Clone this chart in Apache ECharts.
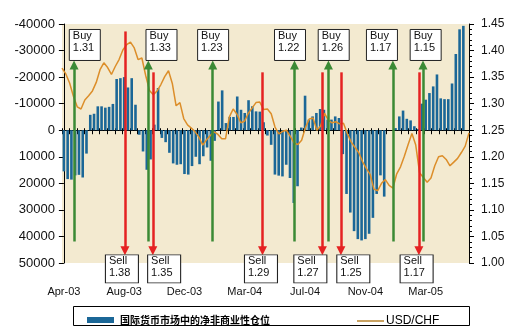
<!DOCTYPE html>
<html><head><meta charset="utf-8">
<script src="https://cdn.jsdelivr.net/npm/echarts@6/dist/echarts.min.js"></script>
<style>html,body{margin:0;padding:0;background:#fff}#c{width:522px;height:335px}</style>
</head><body><div id="c"></div>
<script>
// ---- data ----
const tickLabels = ['Apr-03','Aug-03','Dec-03','Mar-04','Jul-04','Nov-04','Mar-05'];
const weeksPerLabel = 16;
// net non-commercial positions (IMM), weekly; positive plotted downward (inverse axis)
const positions = [
  15500, 18400, 18600, 17000, 16800, 17800, 8800,
  -5800, -6200, -9000, -9000, -8500, -8800, -9900, -19300, -19600, -20000, -16100, -19600, -9600,
  1700, 8000, 14900, 11000,
  -2100, -15900,
  2900, 4500, 8500, 12500, 13000, 12800, 16500, 16700, 13500, 10000, 12800, 9800, 6500, 11500,
  4000,
  -10800, -15000, -2700, -5000, -5000, -12700, -7700, -6500, -11300, -9000, -7100, -7000, -3000,
  2000,
  5500, 16700, 17100, 17400, 13000, 18000, 27400, 21100,
  -1000, -13000, -4000, -5200, -6500, -8000, -7700, -4000, -4000, -5200, -4600,
  9000, 24000, 31000, 38000, 41000, 41500, 41000, 39000, 33000, 24000, 17000, 25000, 0,
  0,
  -800, -5200, -7400, -4300, -3700, -1500,
  -500, -10000,
  -11500, -14000, -16500, -21000, -12000, -11700, -11700, -17600, -28700, -38000, -39300,
  null
];
const usdchf = [
  1.367, 1.356, 1.339, 1.314, 1.294, 1.290, 1.307, 1.315, 1.324, 1.340,
  1.364, 1.377, 1.368, 1.355, 1.370, 1.383, 1.401, 1.411, 1.416, 1.405,
  1.383, 1.386, 1.353, 1.325, 1.317, 1.324, 1.336, 1.351, 1.362, 1.338,
  1.296, 1.302, 1.272, 1.260, 1.254, 1.247, 1.237, 1.222, 1.232, 1.240,
  1.247, 1.242, 1.234, 1.234, 1.275, 1.290, 1.280, 1.264, 1.267, 1.282,
  1.292, 1.302, 1.303, 1.289, 1.290, 1.281, 1.256, 1.243, 1.248, 1.250,
  1.239, 1.226, 1.223, 1.231, 1.255, 1.271, 1.273, 1.250, 1.258, 1.282,
  1.269, 1.264, 1.266, 1.262, 1.263, 1.244, 1.228, 1.218, 1.208, 1.191,
  1.178, 1.167, 1.139, 1.136, 1.150, 1.157, 1.146, 1.141, 1.168, 1.181,
  1.201, 1.223, 1.244, 1.222, 1.170, 1.161, 1.152, 1.160, 1.183, 1.200,
  1.202, 1.195, 1.183, 1.190, 1.197, 1.208, 1.220, 1.245
];
// signals (positions in week-index units)
const buyAt     = [2.7, 22.4, 39.5, 61.2, 70.2, 87.3, 95.3];
const buyPrice  = ['1.31','1.33','1.23','1.22','1.26','1.17','1.15'];
const buyBoxAt  = [5.55, 25.9, 39.6, 60.0, 71.6, 84.4, 96.0];
const sellAt    = [16.2, 23.6, 52.7, 68.6, 73.5, 94.2];
const sellPrice = ['1.38','1.35','1.29','1.27','1.25','1.17'];
const sellBoxAt = [15.4, 26.6, 52.3, 65.4, 76.8, 93.6];
const sellTop   = [-37200, -21800, -21800, -21800, -21800, -21800];

// ---- chart ----
const N = positions.length;
const categories = positions.map((_, i) => (i % weeksPerLabel === 0 ? tickLabels[i / weeksPerLabel] : ''));
const GREEN = '#3b8a35', RED = '#e52222';
const FONT = 'Liberation Sans, Arial, sans-serif';

const buyBoxes = buyBoxAt.map((x, i) => ({ value: [x, -32100], text: 'Buy\n' + buyPrice[i] }));
const sellBoxes = sellBoxAt.map((x, i) => ({ value: [x, 52200], text: 'Sell\n' + sellPrice[i] }));
const buyArrows = buyAt.map(x => [{ coord: [x, 41900] }, { coord: [x, -24600] }]);
const sellArrows = sellAt.map((x, i) => [{ coord: [x, sellTop[i]] }, { coord: [x, 45400] }]);

const boxLabel = {
  show: true, position: [4, 1], formatter: p => p.data.text,
  fontSize: 11, lineHeight: 12, color: '#111', fontFamily: FONT
};
const arrowLine = color => ({
  silent: true, symbol: ['none', 'triangle'], symbolSize: 9, label: { show: false },
  lineStyle: { color: color, width: 2.5, type: 'solid' }, itemStyle: { color: color },
  emphasis: { disabled: true }
});

const option = {
  animation: false,
  backgroundColor: '#fff',
  grid: { left: 62, right: 53, top: 24, bottom: 72, show: true, backgroundColor: '#f3ead0', borderWidth: 0 },
  graphic: [{
    type: 'rect', silent: true, z: 0,
    shape: { x: 73.5, y: 306.5, width: 396, height: 19 },
    style: { fill: '#fff', stroke: '#000', lineWidth: 1 }
  }],
  legend: [{
    left: 82, top: 310, data: ['国际货币市场中的净非商业性仓位'], selectedMode: false,
    itemWidth: 27, itemHeight: 6, icon: 'rect',
    textStyle: { fontWeight: 'bold', fontSize: 10, color: '#000', fontFamily: 'Noto Sans CJK SC', padding: [0, 0, 0, 1] }
  }, {
    left: 352, top: 310, data: ['USD/CHF'], selectedMode: false,
    itemWidth: 27, itemHeight: 2, icon: 'rect', itemStyle: { color: '#c9a262' },
    textStyle: { fontSize: 12, color: '#000', fontFamily: FONT, padding: [0, 0, 0, -3] }
  }],
  xAxis: [
    { type: 'category', data: categories, position: 'bottom',
      axisLine: { show: false, onZero: false }, axisTick: { show: false },
      axisLabel: { interval: weeksPerLabel - 1, margin: 23, fontSize: 11, color: '#111', fontFamily: FONT } },
    { type: 'category', data: categories, position: 'bottom',
      axisLine: { show: true, onZero: true, onZeroAxisIndex: 0, lineStyle: { color: '#000', width: 1 } },
      axisTick: { show: true, interval: 1, length: 4, lineStyle: { color: '#000' } },
      axisLabel: { show: false } },
    { type: 'category', data: categories, position: 'bottom',
      axisLine: { show: false, onZero: true, onZeroAxisIndex: 0 },
      axisTick: { show: true, inside: true, interval: 1, length: 2, lineStyle: { color: '#000' } },
      axisLabel: { show: false } },
    { type: 'category', data: categories, boundaryGap: false, show: false },
    { type: 'value', min: -0.5, max: N - 0.5, show: false }
  ],
  yAxis: [
    { type: 'value', min: -40000, max: 50000, interval: 10000, inverse: true, position: 'left',
      axisLine: { show: true, lineStyle: { color: '#000' } },
      axisTick: { show: true, length: 5, lineStyle: { color: '#000' } },
      splitLine: { show: false },
      axisLabel: { margin: 7, fontSize: 13, color: '#111', fontFamily: FONT, formatter: v => String(v) } },
    { type: 'value', min: 1.0, max: 1.45, interval: 0.05, position: 'right',
      axisLine: { show: true, lineStyle: { color: '#000' } },
      axisTick: { show: true, length: 5, lineStyle: { color: '#000' } },
      minorTick: { show: true, splitNumber: 5, length: 3, lineStyle: { color: '#000' } },
      splitLine: { show: false },
      axisLabel: { margin: 12, fontSize: 12, color: '#111', fontFamily: FONT, formatter: v => v.toFixed(2) } }
  ],
  series: [
    { name: '国际货币市场中的净非商业性仓位', type: 'bar', xAxisIndex: 0, yAxisIndex: 0,
      data: positions, barWidth: 2.6, itemStyle: { color: '#1b6797' }, z: 2 },
    { name: 'USD/CHF', type: 'line', xAxisIndex: 3, yAxisIndex: 1, data: usdchf,
      symbol: 'none', lineStyle: { color: '#dc8e2a', width: 1.5 }, itemStyle: { color: '#dc8e2a' }, z: 3 },
    { name: 'buy', type: 'scatter', xAxisIndex: 4, yAxisIndex: 0, data: buyBoxes, z: 5,
      symbol: 'rect', symbolSize: [31, 31], clip: false, silent: true,
      itemStyle: { color: '#fff', borderColor: '#222', borderWidth: 1, opacity: 1 },
      label: boxLabel, markLine: Object.assign(arrowLine(GREEN), { data: buyArrows }) },
    { name: 'sell', type: 'scatter', xAxisIndex: 4, yAxisIndex: 0, data: sellBoxes, z: 5,
      symbol: 'rect', symbolSize: [33, 28], clip: false, silent: true,
      itemStyle: { color: '#fff', borderColor: '#222', borderWidth: 1, opacity: 1 },
      label: boxLabel, markLine: Object.assign(arrowLine(RED), { data: sellArrows }) }
  ]
};
const chart = echarts.init(document.getElementById('c'));
chart.setOption(option);
</script>
</body></html>
